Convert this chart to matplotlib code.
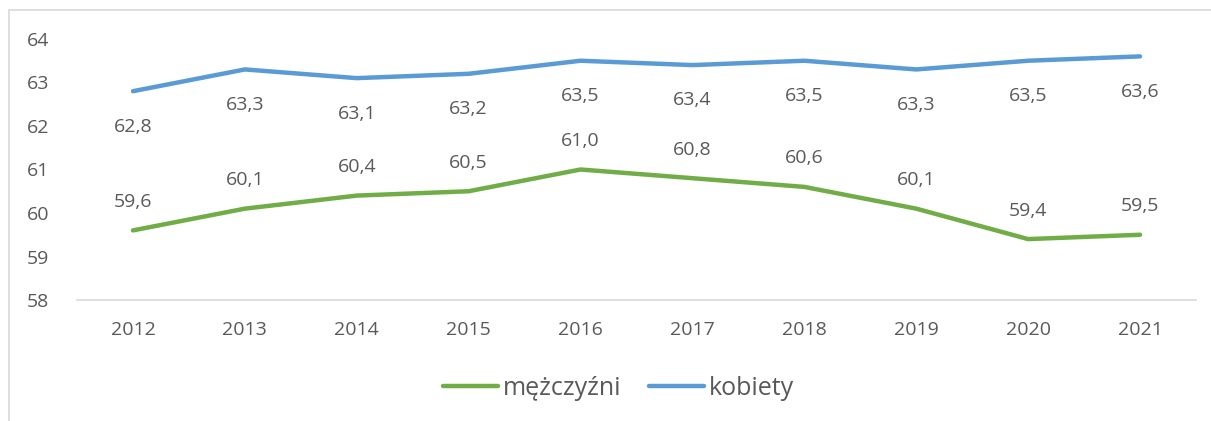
import matplotlib.pyplot as plt
from matplotlib.patches import Rectangle

years = ['2012', '2013', '2014', '2015', '2016', '2017', '2018', '2019', '2020', '2021']
men = [59.6, 60.1, 60.4, 60.5, 61.0, 60.8, 60.6, 60.1, 59.4, 59.5]
women = [62.8, 63.3, 63.1, 63.2, 63.5, 63.4, 63.5, 63.3, 63.5, 63.6]

plt.rcParams['font.family'] = ['Open Sans', 'DejaVu Sans']
txt = '#595959'

fig = plt.figure(figsize=(12.11, 4.21), dpi=100)
ax = fig.add_axes([0.0636, 0.2874, 0.924, 0.62])

x = list(range(len(years)))
ax.plot(x, men, color='#70AD47', lw=3.2, solid_capstyle='round', label='mężczyźni')
ax.plot(x, women, color='#5B9BD5', lw=3.2, solid_capstyle='round', label='kobiety')

for i, v in enumerate(men):
    ax.annotate(f'{v:.1f}'.replace('.', ','), (i, v), xytext=(0, 14), textcoords='offset points',
                ha='center', va='bottom', fontsize=14, color=txt)
for i, v in enumerate(women):
    ax.annotate(f'{v:.1f}'.replace('.', ','), (i, v), xytext=(0, -19), textcoords='offset points',
                ha='center', va='top', fontsize=14, color=txt)

ax.set_xlim(-0.5, len(years) - 0.5)
ax.set_ylim(58, 64)
ax.set_yticks(range(58, 65))
ax.set_xticks(x)
ax.set_xticklabels(years)
ax.tick_params(axis='both', length=0, labelsize=14, colors=txt)
ax.tick_params(axis='y', pad=20)
ax.tick_params(axis='x', pad=15)
for s in ['top', 'right', 'left']:
    ax.spines[s].set_visible(False)
ax.spines['bottom'].set_color('#d9d9d9')
ax.spines['bottom'].set_linewidth(1.2)

leg = fig.legend(loc='center', bbox_to_anchor=(0.511, 0.078), ncol=2, frameon=False,
                 fontsize=18, handlelength=2.2, handletextpad=0.2, columnspacing=1.1)
for t in leg.get_texts():
    t.set_color(txt)

fig.patches.append(Rectangle((9 / 1211, -0.1), 1.2, 1 - 10 / 421 + 0.1, transform=fig.transFigure,
                             fill=False, edgecolor='#d9d9d9', lw=1.2))

fig.savefig('out.png', dpi=100)
